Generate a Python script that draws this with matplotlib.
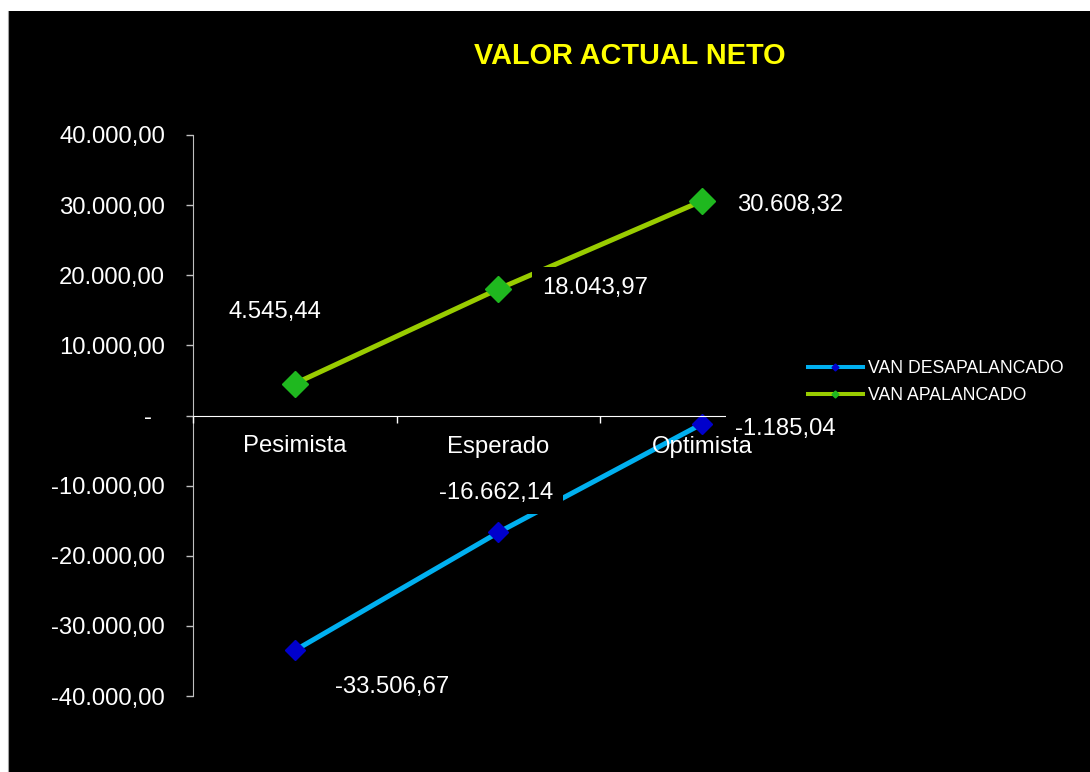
import matplotlib
matplotlib.use('Agg')
import matplotlib.pyplot as plt
from matplotlib.lines import Line2D
from matplotlib.patches import Rectangle

plt.rcParams['font.family'] = ['Liberation Sans', 'DejaVu Sans']

# Escenarios y valores del VAN
escenarios = ['Pesimista', 'Esperado', 'Optimista']
van_desapalancado = [-33506.67, -16662.14, -1185.04]
van_apalancado = [4545.44, 18043.97, 30608.32]
y_ticks = [-40000, -30000, -20000, -10000, 0, 10000, 20000, 30000, 40000]
nombres_series = ['VAN DESAPALANCADO', 'VAN APALANCADO']

# Desplazamiento de las etiquetas de datos (pixeles)
offs_desap = [(97, -42.8), (-2, 33), (83.5, -11.2)]
offs_apal = [(-19.5, 65.6), (96.5, -5), (87.5, -9.8)]

AZUL_LINEA, AZUL_MARCA = '#00b0f0', '#0000cc'
VERDE_LINEA, VERDE_MARCA = '#99cc00', '#1fb81f'
TXT = 17.2


def fmt_es(v):
    """Formato contable: miles con punto, decimales con coma."""
    if v == 0:
        return '-  '
    s = f'{v:,.2f}'
    return s.replace(',', '#').replace('.', ',').replace('#', '.')


W, H = 1090, 772
fig = plt.figure(figsize=(W / 100, H / 100), dpi=100, facecolor='white')
fig.add_artist(Rectangle((8 / W, 0), 1 - 8 / W, 1 - 11 / H, transform=fig.transFigure,
                         facecolor='black', edgecolor='none', zorder=0))
fig.add_artist(Line2D([7.5 / W, 7.5 / W], [0, 1 - 11 / H], transform=fig.transFigure,
                      color='#a0a0a0', lw=0.8, zorder=0.5))

ax = fig.add_axes([193 / W, 1 - 696 / H, (804 - 193) / W, (696 - 135) / H])
ax.set_facecolor('black')
ax.set_axisbelow(False)

x = list(range(len(escenarios)))
ax.plot(x, van_desapalancado, color=AZUL_LINEA, lw=3.6, marker='D', ms=10,
        mfc=AZUL_MARCA, mec=AZUL_MARCA, zorder=2)
ax.plot(x, van_apalancado, color=VERDE_LINEA, lw=3.6, marker='D', ms=13,
        mfc=VERDE_MARCA, mec=VERDE_MARCA, zorder=2)

ax.set_xlim(-0.5, len(escenarios) - 0.5)
ax.set_ylim(y_ticks[0], y_ticks[-1])

ax.set_xticks(x)
ax.set_xticklabels(escenarios)
# marcas de división entre escenarios (la del extremo derecho queda bajo la etiqueta)
ax.set_xticks([i - 0.5 for i in range(len(escenarios))], minor=True)
ax.tick_params(axis='x', which='major', length=0, pad=14.4, labelcolor='white', labelsize=TXT)
ax.tick_params(axis='x', which='minor', length=5, width=1, color='white', direction='out')
# nombres de escenario por encima de las cajas de etiquetas
ax.xaxis.set_zorder(3)

ax.set_yticks(y_ticks)
ax.set_yticklabels([fmt_es(v) for v in y_ticks])
ax.tick_params(axis='y', length=5, width=1, color='#c0c0c0', direction='out', pad=15,
               labelcolor='white', labelsize=TXT)

ax.spines['top'].set_visible(False)
ax.spines['right'].set_visible(False)
ax.spines['left'].set_color('#c0c0c0')
ax.spines['bottom'].set_color('white')
ax.spines['bottom'].set_position(('data', 0))

for serie, offs in ((van_desapalancado, offs_desap), (van_apalancado, offs_apal)):
    for i, (v, off) in enumerate(zip(serie, offs)):
        ax.annotate(fmt_es(v), xy=(i, v), xytext=off, textcoords='offset pixels',
                    ha='center', va='baseline', color='white', fontsize=TXT,
                    bbox=dict(boxstyle='square,pad=0.4', fc='black', ec='none'),
                    zorder=2.6, annotation_clip=False)

fig.text(630 / W, 1 - 64 / H, 'VALOR ACTUAL NETO', ha='center', va='baseline',
         color='#ffff00', fontsize=20.8, fontweight='bold')

handles = [
    Line2D([], [], color=AZUL_LINEA, lw=2.9, marker='D', ms=3.5, mfc=AZUL_MARCA, mec=AZUL_MARCA),
    Line2D([], [], color=VERDE_LINEA, lw=2.9, marker='D', ms=3.5, mfc=VERDE_MARCA, mec=VERDE_MARCA),
]
fig.legend(handles, nombres_series, loc='center left', bbox_to_anchor=(808 / W, 1 - 382 / H),
           frameon=False, borderpad=0, borderaxespad=0, handlelength=3.1, handletextpad=0.28,
           labelspacing=0.6, fontsize=12.7, labelcolor='white')

fig.savefig('out.png', dpi=100, facecolor='white')
